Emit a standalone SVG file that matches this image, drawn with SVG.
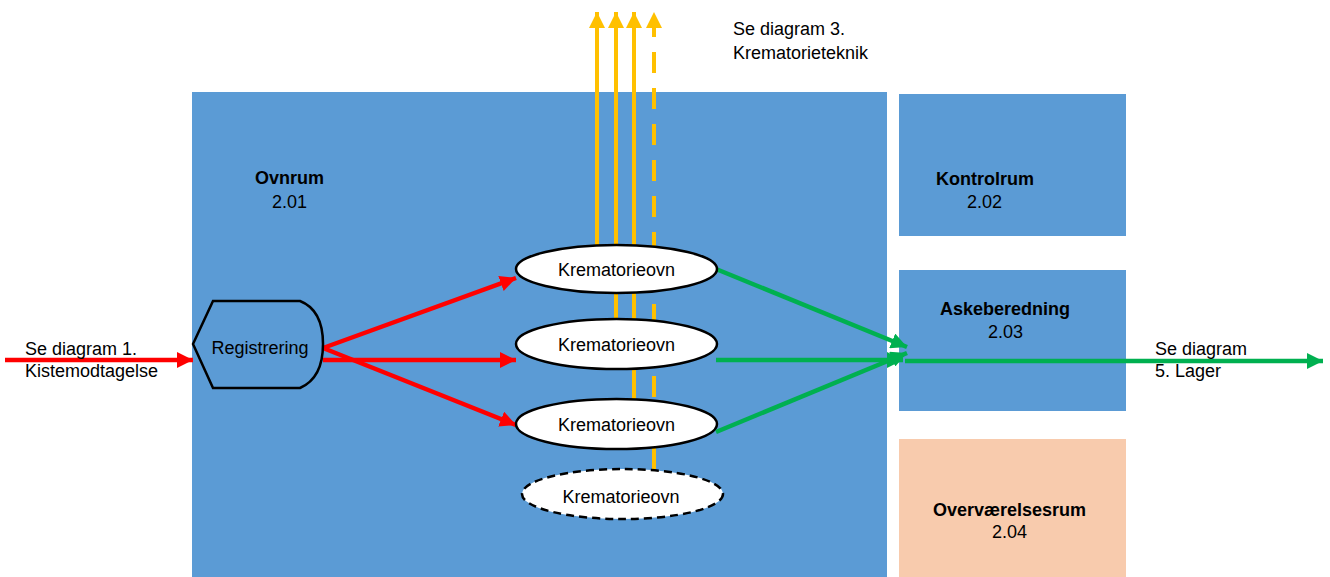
<svg xmlns="http://www.w3.org/2000/svg" width="1330" height="577" viewBox="0 0 1330 577">
<style>
text{font-family:"Liberation Sans",Arial,sans-serif;font-size:18px;fill:#000}
.b{font-weight:bold}
.room{fill:#5B9BD5}
.ov{fill:#F8CBAD}
.oven{fill:#fff;stroke:#000;stroke-width:2.5}
.y{stroke:#FFC000;stroke-width:4;fill:none}
.r{stroke:#FF0000;stroke-width:4.5;fill:none}
.g{stroke:#00B050;stroke-width:4.5;fill:none}
</style>
<defs>
<marker id="ay" viewBox="0 0 16 16" refX="16" refY="8" markerWidth="16" markerHeight="16" markerUnits="userSpaceOnUse" orient="auto"><path d="M0,0 L16,8 L0,16 z" fill="#FFC000"/></marker>
<marker id="ar" viewBox="0 0 16 16" refX="16" refY="8" markerWidth="16" markerHeight="16" markerUnits="userSpaceOnUse" orient="auto"><path d="M0,0 L16,8 L0,16 z" fill="#FF0000"/></marker>
<marker id="ag" viewBox="0 0 16 16" refX="16" refY="8" markerWidth="16" markerHeight="16" markerUnits="userSpaceOnUse" orient="auto"><path d="M0,0 L16,8 L0,16 z" fill="#00B050"/></marker>
</defs>
<rect width="1330" height="577" fill="#fff"/>
<g id="ovnrum">
<rect class="room" x="192" y="92" width="695" height="485"/>
<text class="b" x="255" y="184">Ovnrum</text>
<text x="272" y="208">2.01</text>
</g>
<g id="kontrolrum">
<rect class="room" x="899" y="94" width="227" height="142"/>
<text class="b" x="936" y="185">Kontrolrum</text>
<text x="967" y="208">2.02</text>
</g>
<g id="askeberedning">
<rect class="room" x="899" y="270" width="227" height="141"/>
<text class="b" x="940" y="315">Askeberedning</text>
<text x="988" y="338">2.03</text>
</g>
<g id="overvaerelsesrum">
<rect class="ov" x="899" y="439" width="227" height="138"/>
<text class="b" x="933" y="516">Overværelsesrum</text>
<text x="992" y="538">2.04</text>
</g>
<g id="connectors">
<line class="y" x1="597" y1="250" x2="597" y2="12" marker-end="url(#ay)"/>
<line class="y" x1="616" y1="320" x2="616" y2="12" marker-end="url(#ay)"/>
<line class="y" x1="634" y1="400" x2="634" y2="12" marker-end="url(#ay)"/>
<line class="y" x1="654" y1="472" x2="654" y2="12" stroke-dasharray="21 15" stroke-dashoffset="-3" marker-end="url(#ay)"/>
<line class="r" x1="5" y1="360" x2="193" y2="360" marker-end="url(#ar)"/>
<line class="r" x1="323" y1="348" x2="516" y2="278" marker-end="url(#ar)"/>
<line class="r" x1="323" y1="360" x2="516" y2="360" marker-end="url(#ar)"/>
<line class="r" x1="323" y1="348" x2="516" y2="425" marker-end="url(#ar)"/>
<line class="g" x1="716" y1="269" x2="907" y2="347" marker-end="url(#ag)"/>
<line class="g" x1="716" y1="360" x2="903" y2="360" marker-end="url(#ag)"/>
<line class="g" x1="716" y1="432" x2="907" y2="353" marker-end="url(#ag)"/>
<line class="g" x1="905" y1="361" x2="1323" y2="361" marker-end="url(#ag)"/>
</g>
<g id="registrering">
<path d="M193,344 L213,301 L300,301 Q323,310 323,344 Q323,378 300,388 L213,388 Z" fill="#5B9BD5" stroke="#000" stroke-width="2.5"/>
<text x="260" y="354" text-anchor="middle">Registrering</text>
</g>
<g id="ovn1">
<ellipse class="oven" cx="616.5" cy="269" rx="100.5" ry="24"/>
<text x="616.5" y="276" text-anchor="middle">Krematorieovn</text>
</g>
<g id="ovn2">
<ellipse class="oven" cx="616.5" cy="344" rx="100.5" ry="25"/>
<text x="616.5" y="351" text-anchor="middle">Krematorieovn</text>
</g>
<g id="ovn3">
<ellipse class="oven" cx="616.5" cy="424" rx="100.5" ry="25"/>
<text x="616.5" y="431" text-anchor="middle">Krematorieovn</text>
</g>
<g id="ovn4">
<ellipse class="oven" cx="622.5" cy="494" rx="100.5" ry="25" stroke-dasharray="8 5"/>
<text x="621" y="503" text-anchor="middle">Krematorieovn</text>
</g>
<g id="labels">
<text x="733" y="35">Se diagram 3.</text>
<text x="733" y="59">Krematorieteknik</text>
<text x="25" y="355">Se diagram 1.</text>
<text x="25" y="377">Kistemodtagelse</text>
<text x="1155" y="355">Se diagram</text>
<text x="1155" y="377">5. Lager</text>
</g>
</svg>
